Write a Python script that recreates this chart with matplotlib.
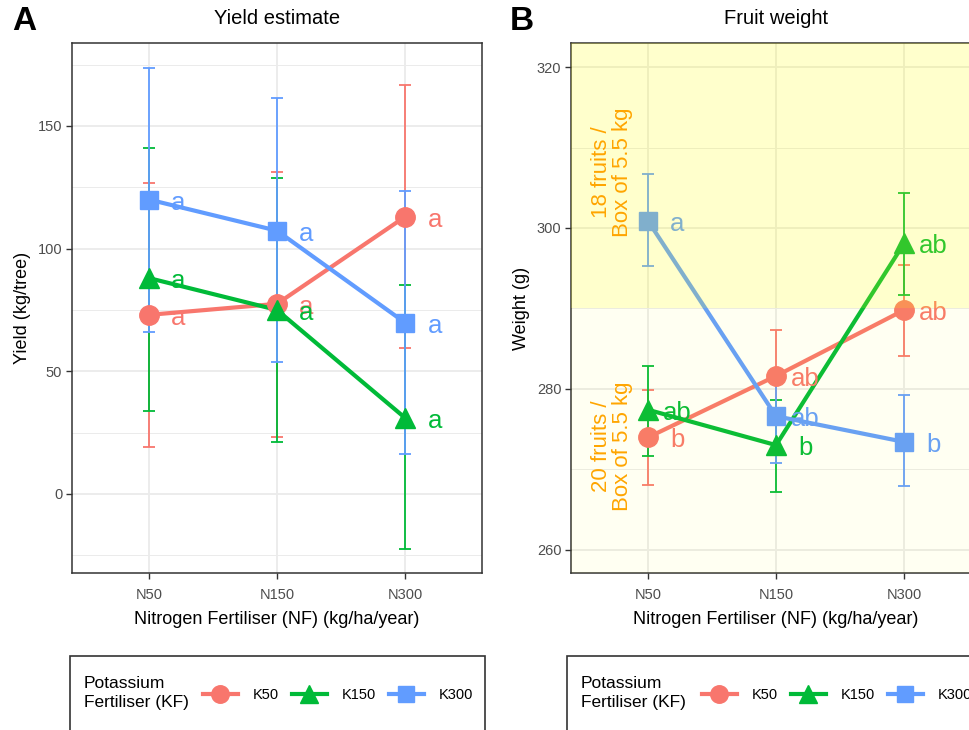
import matplotlib
matplotlib.use("Agg")
import matplotlib.pyplot as plt
from matplotlib.lines import Line2D
from matplotlib.patches import Rectangle
from matplotlib.transforms import offset_copy

plt.rcParams['font.family'] = ['Liberation Sans', 'DejaVu Sans']

# --- data ---
nitrogen = ["N50", "N150", "N300"]
potassium = ["K50", "K150", "K300"]
colors = ["#F8766D", "#00BA38", "#619CFF"]
markers = ["o", "^", "s"]
msizes = [14, 15, 13]

yield_mean = [[73, 77.5, 113], [88, 75, 31], [120, 107.3, 69.8]]
yield_lo = [[19, 23.3, 59.3], [33.7, 21, -22.4], [66, 53.7, 16.3]]
yield_hi = [[126.7, 131.2, 166.8], [141.2, 128.6, 85], [173.8, 161.2, 123.5]]
yield_letters = [["a", "a", "a"], ["a", "a", "a"], ["a", "a", "a"]]

weight_mean = [[273.95, 281.6, 289.8], [277.4, 273, 298.1], [300.9, 276.6, 273.4]]
weight_lo = [[268.1, 275.8, 284.1], [271.6, 267.2, 291.7], [295.3, 270.8, 267.9]]
weight_hi = [[279.9, 287.3, 295.4], [282.9, 278.6, 304.4], [306.7, 282.2, 279.2]]
weight_letters = [["b", "ab", "ab"], ["ab", "b", "ab"], ["a", "ab", "b"]]

box_split = 290
box_notes = ["18 fruits /\nBox of 5.5 kg", "20 fruits /\nBox of 5.5 kg"]
box_note_y = [306.9, 272.9]

W, H = 970, 730
fig = plt.figure(figsize=(W / 100, H / 100), dpi=100)


def setup(ax, ylim, major, minor, ylabel, title):
    ax.set_xlim(0.4, 3.6)
    ax.set_ylim(*ylim)
    ax.set_xticks([1, 2, 3])
    ax.set_xticklabels(nitrogen)
    ax.set_xticks([], minor=True)
    ax.set_yticks(major)
    ax.set_yticks(minor, minor=True)
    ax.grid(True, which="major", color="#EBEBEB", lw=1.3, zorder=0)
    ax.grid(True, which="minor", axis="y", color="#EBEBEB", lw=0.7, zorder=0)
    ax.set_axisbelow(True)
    for s in ax.spines.values():
        s.set_color("#333333")
        s.set_linewidth(1.1)
    ax.tick_params(which="major", length=4, width=1, color="#333333",
                   labelcolor="#4D4D4D", labelsize=10.5, pad=3)
    ax.tick_params(axis="x", which="major", pad=6.5)
    ax.tick_params(which="minor", length=0)
    ax.set_xlabel("Nitrogen Fertiliser (NF) (kg/ha/year)", fontsize=13, labelpad=7)
    ax.set_ylabel(ylabel, fontsize=13, labelpad=5)
    ax.set_title(title, fontsize=14.5, pad=13.5)


def draw_series(ax, mean, lo, hi, letters):
    x = [1, 2, 3]
    lab_tr = offset_copy(ax.transData, fig=fig, y=-3, units="dots")
    for i in range(3):
        m = mean[i]
        err = [[m[j] - lo[i][j] for j in range(3)], [hi[i][j] - m[j] for j in range(3)]]
        ax.errorbar(x, m, yerr=err, fmt="none", ecolor=colors[i], elinewidth=1.3,
                    capsize=4.6, capthick=1.3, zorder=3)
    for i in range(3):
        ax.plot(x, mean[i], color=colors[i], lw=3, zorder=4)
    for i in range(3):
        ax.plot(x, mean[i], ls="none", marker=markers[i], ms=msizes[i],
                color=colors[i], mec=colors[i], zorder=5)
        for j in range(3):
            ax.text(x[j] + 0.23, mean[i][j], letters[i][j], color=colors[i],
                    fontsize=18.5, ha="center", va="center", zorder=6,
                    transform=lab_tr)


# --- panel A ---
axA = fig.add_axes([72 / W, 1 - 573 / H, 410 / W, 530 / H])
setup(axA, (-32.2, 183.8), [0, 50, 100, 150], [-25, 25, 75, 125, 175],
      "Yield (kg/tree)", "Yield estimate")
draw_series(axA, yield_mean, yield_lo, yield_hi, yield_letters)

# --- panel B ---
axB = fig.add_axes([571 / W, 1 - 573 / H, 410 / W, 530 / H])
setup(axB, (257.1, 323.0), [260, 280, 300, 320], [270, 290, 310],
      "Weight (g)", "Fruit weight")
draw_series(axB, weight_mean, weight_lo, weight_hi, weight_letters)
axB.axhspan(box_split, 400, color="yellow", alpha=0.2, lw=0, zorder=8)
axB.axhspan(200, box_split, color="yellow", alpha=0.05, lw=0, zorder=8)
for note, yv in zip(box_notes, box_note_y):
    axB.text(0.72, yv, note, rotation=90, color="#FFA500", fontsize=16,
             ha="center", va="center", multialignment="center",
             linespacing=0.95, zorder=9)

# panel tags
fig.text(12 / W, 1 - 22 / H, "A", fontsize=24, fontweight="bold", va="center")
fig.text(510 / W, 1 - 22 / H, "B", fontsize=24, fontweight="bold", va="center")

# --- legends ---
handles = [Line2D([], [], color=colors[i], lw=3, marker=markers[i],
                  ms=msizes[i] * 0.9) for i in range(3)]
for box_l, box_r, keys_x in [(70, 485, 203), (567, 990, 702)]:
    fig.add_artist(Rectangle((box_l / W, -0.05), (box_r - box_l) / W, 1 - 656 / H + 0.05,
                             transform=fig.transFigure, fill=False,
                             ec="#333333", lw=1.2))
    fig.text((box_l + 14) / W, 1 - 693 / H, "Potassium\nFertiliser (KF)",
             fontsize=12.5, va="center", ha="left", linespacing=1.3)
    fig.legend(handles, potassium, ncol=3, frameon=False, loc="center left",
               bbox_to_anchor=(keys_x / W, 1 - 695 / H), borderpad=0,
               borderaxespad=0, handlelength=2.4, handletextpad=1.0,
               columnspacing=0.9, fontsize=10.5)

fig.savefig("out.png", dpi=100)
